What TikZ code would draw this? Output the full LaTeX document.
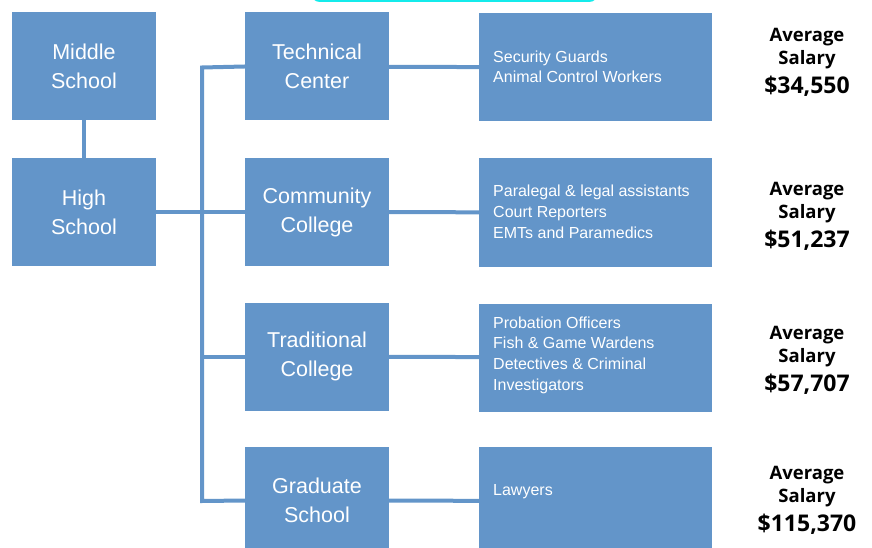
\documentclass[tikz,border=0pt]{standalone}
\usepackage{fontspec}
\setmainfont{Liberation Sans}
\newfontfamily\salaryfont{Open Sans}
\usetikzlibrary{positioning}
\definecolor{boxblue}{RGB}{99,149,201}
\definecolor{topcyan}{RGB}{20,235,235}
\tikzset{
	school/.style={fill=boxblue,text=white,minimum width=144pt,minimum height=108pt,inner sep=0pt,align=center,font=\fontsize{21.5}{29}\selectfont},
	jobs/.style={fill=boxblue,minimum width=233pt,minimum height=108pt,inner sep=0pt},
	jobtext/.style={text=white,anchor=base west,inner sep=0pt,align=left,font=\fontsize{16}{20.8}\selectfont},
	salary/.style={inner sep=0pt,align=center,font=\salaryfont\bfseries\fontsize{18.5}{23}\selectfont},
	link/.style={draw=boxblue,line width=4pt},
}

\begin{document}
\begin{tikzpicture}[x=1pt,y=-1pt]
		\useasboundingbox (0,0) rectangle (872,548);
		
		% cyan frame at the top.....................
		\draw [topcyan,line width=3pt,rounded corners=8pt] (312,-30) rectangle (597,0.5);
		
		% school boxes.....................
		\node [school] (middle) at (84,66) {Middle\\School};
		\node [school] (high) at (84,212) {High\\School};
		
		% after high school......................
		\node [school] (technical) at (317,66.5) {Technical\\Center};
		\node [school] (community) at (317,212) {Community\\College};
		\node [school] (traditional) at (317,356.5) {Traditional\\College};
		\node [school] (graduate) at (317,500.5) {Graduate\\School};
		
		% job boxes...................
		\node [jobs] (jobsA) at (595.5,67.5) {};
		\node [jobs] (jobsB) at (595.5,212.5) {};
		\node [jobs] (jobsC) at (595.5,357.5) {};
		\node [jobs] (jobsD) at (595.5,501) {};
		\node [jobtext] (listA) at (493,83) {Security Guards\\Animal Control Workers};
		\node [jobtext] (listB) at (493,238) {Paralegal \& legal assistants\\Court Reporters\\EMTs and Paramedics};
		\node [jobtext] (listC) at (493,390.5) {Probation Officers\\Fish \& Game Wardens\\Detectives \& Criminal\\Investigators};
		\node [jobtext] (listD) at (493,495.5) {Lawyers};
		
		% salaries..............................
		\node [salary] (payA) at (807,62) {Average\\Salary\\[6pt]{\fontsize{23}{23}\selectfont \$34,550}};
		\node [salary] (payB) at (807,216.5) {Average\\Salary\\[6pt]{\fontsize{23}{23}\selectfont \$51,237}};
		\node [salary] (payC) at (807,360) {Average\\Salary\\[6pt]{\fontsize{23}{23}\selectfont \$57,707}};
		\node [salary] (payD) at (807,500) {Average\\Salary\\[6pt]{\fontsize{23}{23}\selectfont \$115,370}};
		
		% connectors.............
		\coordinate (trunktop) at (202,67.5);
		\coordinate (trunkbot) at (202,501);
		\draw [link] (middle) -- (high);
		\draw [link] (high) -- (community);
		\draw [link] (technical.west) -- (trunktop) -- (trunkbot) -- (graduate.west);
		\draw [link] (traditional.west) -- (traditional.west -| trunktop);
		\draw [link] (technical) -- (jobsA);
		\draw [link] (community) -- (jobsB);
		\draw [link] (traditional) -- (jobsC);
		\draw [link] (graduate) -- (jobsD);
		
	\end{tikzpicture}
\end{document}
